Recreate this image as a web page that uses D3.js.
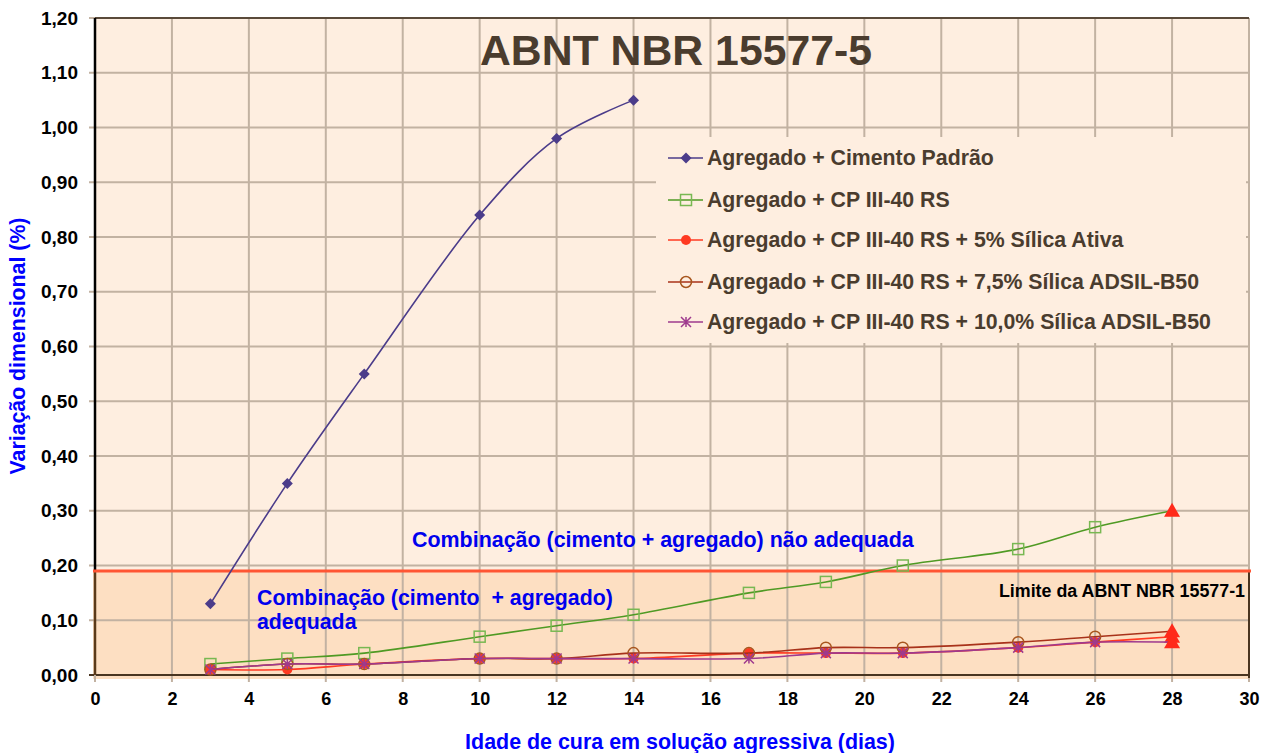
<!DOCTYPE html>
<html><head><meta charset="utf-8">
<script src="https://cdn.jsdelivr.net/npm/d3@7"></script>
<style>body{margin:0;background:#fff}svg{display:block;font-family:Arial,"Liberation Sans",sans-serif}</style>
</head><body><svg id="c" width="1275" height="753"></svg>
<script>
const days = [3,5,7,10,12,14,17,19,21,24,26,28];
const seriesNames = [
  "Agregado + Cimento Padrão",
  "Agregado + CP III-40 RS",
  "Agregado + CP III-40 RS + 5% Sílica Ativa",
  "Agregado + CP III-40 RS + 7,5% Sílica ADSIL-B50",
  "Agregado + CP III-40 RS + 10,0% Sílica ADSIL-B50"
];
const padrao = [0.13,0.35,0.55,0.84,0.98,1.05];
const cp3 = [0.02,0.03,0.04,0.07,0.09,0.11,0.15,0.17,0.20,0.23,0.27,0.30];
const silica5 = [0.01,0.01,0.02,0.03,0.03,0.03,0.04,0.04,0.04,0.05,0.06,0.07];
const adsil75 = [0.01,0.02,0.02,0.03,0.03,0.04,0.04,0.05,0.05,0.06,0.07,0.08];
const adsil10 = [0.01,0.02,0.02,0.03,0.03,0.03,0.03,0.04,0.04,0.05,0.06,0.06];
const limite = 0.19;
const xTicks = [0,2,4,6,8,10,12,14,16,18,20,22,24,26,28,30];
const yTicks = [0,0.1,0.2,0.3,0.4,0.5,0.6,0.7,0.8,0.9,1.0,1.1,1.2];

const svg = d3.select("#c");
const L=95, T=18, R=1249, B=675;
const x = d3.scaleLinear().domain([0,30]).range([L,R]);
const y = d3.scaleLinear().domain([0,1.2]).range([B,T]);

function fit(sel, w){
  const n = sel.node(); const fs = parseFloat(sel.attr("font-size"));
  const m = n.getComputedTextLength();
  if(m>0) sel.attr("font-size", (fs*w/m).toFixed(2));
  return sel;
}

// backgrounds
svg.append("rect").attr("x",L).attr("y",T).attr("width",R-L).attr("height",B-T).attr("fill","#FEEEE0");
svg.append("rect").attr("x",L-2).attr("y",y(limite)).attr("width",R-L+2).attr("height",B-y(limite)+4).attr("fill","#FDDFC2");

// grid
const gc="#C2B2A2";
svg.append("g").selectAll("line").data(xTicks.slice(1)).join("line")
  .attr("x1",d=>x(d)).attr("x2",d=>x(d)).attr("y1",T).attr("y2",B+7).attr("stroke",gc).attr("stroke-width",2);
svg.append("g").selectAll("line").data(yTicks.slice(1)).join("line")
  .attr("x1",L-6).attr("x2",R).attr("y1",d=>y(d)).attr("y2",d=>y(d)).attr("stroke",gc).attr("stroke-width",2);
// frame
svg.append("line").attr("x1",L).attr("x2",R).attr("y1",T).attr("y2",T).attr("stroke","#5a4a3a").attr("stroke-width",2);
svg.append("line").attr("x1",R).attr("x2",R).attr("y1",y(limite)).attr("y2",B+3).attr("stroke","#4a3520").attr("stroke-width",2);
svg.append("line").attr("x1",L-6).attr("x2",R).attr("y1",B).attr("y2",B).attr("stroke","#4a3520").attr("stroke-width",2);
svg.append("line").attr("x1",L).attr("x2",L).attr("y1",T).attr("y2",y(limite)).attr("stroke","#000").attr("stroke-width",2.5);
svg.append("line").attr("x1",L).attr("x2",L).attr("y1",y(limite)).attr("y2",B).attr("stroke","#5a3a1a").attr("stroke-width",2.5);
svg.append("line").attr("x1",L).attr("x2",L).attr("y1",B).attr("y2",B+7).attr("stroke",gc).attr("stroke-width",2);

// axes labels
const xa = d3.axisBottom(x).tickValues(xTicks).tickSize(0).tickPadding(0).tickFormat(d3.format("d"));
const ga = svg.append("g").attr("transform",`translate(0,${B+17})`).call(xa);
ga.select(".domain").remove();
ga.selectAll("text").attr("font-size",18).attr("font-weight","bold").attr("fill","#000").attr("font-family","Arial, Liberation Sans");
const fmt = d=>d3.format(".2f")(d).replace(".",",");
const ya = d3.axisLeft(y).tickValues(yTicks).tickSize(0).tickPadding(0).tickFormat(fmt);
const gy = svg.append("g").attr("transform",`translate(${L-17},0)`).call(ya);
gy.select(".domain").remove();
gy.selectAll("text").attr("font-size",19).attr("font-weight","bold").attr("fill","#000").attr("font-family","Arial, Liberation Sans");

// limit line
svg.append("line").attr("x1",L-2).attr("x2",R+2).attr("y1",y(limite)).attr("y2",y(limite)).attr("stroke","#FF5533").attr("stroke-width",3);

// title
fit(svg.append("text").attr("x",676).attr("y",65).attr("text-anchor","middle").attr("font-size",42).attr("font-weight","bold").attr("fill","#4A3C2E").text("ABNT NBR 15577-5"),392);

// axis titles
fit(svg.append("text").attr("x",680).attr("y",749).attr("text-anchor","middle").attr("font-size",20).attr("font-weight","bold").attr("fill","#0000FF").text("Idade de cura em solução agressiva (dias)"),430);
fit(svg.append("text").attr("transform","translate(25,346) rotate(-90)").attr("text-anchor","middle").attr("font-size",19).attr("font-weight","bold").attr("fill","#0000FF").text("Variação dimensional (%)"),257);

// annotations
fit(svg.append("text").attr("x",412).attr("y",547).attr("font-size",21).attr("font-weight","bold").attr("fill","#0000EE").text("Combinação (cimento + agregado) não adequada"),502);
fit(svg.append("text").attr("x",257).attr("y",605).attr("font-size",21).attr("font-weight","bold").attr("fill","#0000EE").attr("xml:space","preserve").text("Combinação (cimento  + agregado)"),356);
const ad = svg.append("text").attr("x",257).attr("y",629).attr("font-weight","bold").attr("fill","#0000EE").text("adequada");
fit(svg.append("text").attr("x",1245).attr("y",597).attr("text-anchor","end").attr("font-size",16).attr("font-weight","bold").attr("fill","#000").text("Limite da ABNT NBR 15577-1"),246);

// series
const styles = [
  {line:"#4B3C8A", mk:"diamond", stroke:"#4B3C8A", fill:"#4B3C8A"},
  {line:"#4F9A24", mk:"square", stroke:"#78B852", fill:"none"},
  {line:"#FF3A22", mk:"circle", stroke:"#FF3A22", fill:"#FF3A22"},
  {line:"#A8321A", mk:"ocircle", stroke:"#A8561E", fill:"none"},
  {line:"#9E3A8E", mk:"star", stroke:"#9E3A8E", fill:"none"}
];
const datas = [padrao, cp3, silica5, adsil75, adsil10];
const lineGen = d3.line().x(d=>x(d[0])).y(d=>y(d[1])).curve(d3.curveCatmullRom.alpha(0.5));

function marker(g, type, px, py, st){
  if(type==="diamond") g.append("path").attr("d",`M${px},${py-5.5}L${px+5.5},${py}L${px},${py+5.5}L${px-5.5},${py}Z`).attr("fill",st.fill);
  else if(type==="square") g.append("rect").attr("x",px-5.5).attr("y",py-5.5).attr("width",11).attr("height",11).attr("fill","none").attr("stroke",st.stroke).attr("stroke-width",1.5);
  else if(type==="circle") g.append("circle").attr("cx",px).attr("cy",py).attr("r",5).attr("fill",st.fill);
  else if(type==="ocircle") g.append("circle").attr("cx",px).attr("cy",py).attr("r",5.5).attr("fill","none").attr("stroke",st.stroke).attr("stroke-width",1.5);
  else if(type==="star"){
    const s=5;
    g.append("path").attr("d",`M${px-s},${py-s}L${px+s},${py+s}M${px-s},${py+s}L${px+s},${py-s}M${px},${py-s}L${px},${py+s}`).attr("stroke",st.stroke).attr("stroke-width",1.5);
  } else if(type==="tri") g.append("path").attr("d",`M${px},${py-8}L${px+8},${py+6}L${px-8},${py+6}Z`).attr("fill","#FF2A1A");
}

datas.forEach((vals,i)=>{
  const pts = vals.map((v,j)=>[days[j],v]);
  const g = svg.append("g");
  g.append("path").datum(pts).attr("d",lineGen).attr("fill","none").attr("stroke",styles[i].line).attr("stroke-width",1.6);
  pts.forEach((p,j)=>{
    const last = (i>0 && j===pts.length-1);
    marker(g, last?"tri":styles[i].mk, x(p[0]), y(p[1]), styles[i]);
  });
});

// legend
const lg = svg.append("g");
lg.append("rect").attr("x",656).attr("y",137).attr("width",590).attr("height",206).attr("fill","#FEEEE0");
const legendY = [158,200,240,282,322];
let lfs = 20;
seriesNames.forEach((n,i)=>{
  const yy = legendY[i];
  lg.append("line").attr("x1",668).attr("x2",703).attr("y1",yy).attr("y2",yy).attr("stroke",styles[i].line).attr("stroke-width",1.6);
  marker(lg, styles[i].mk, 686, yy, styles[i]);
  const t = lg.append("text").attr("x",707).attr("y",yy+7).attr("font-size",20).attr("font-weight","bold").attr("fill","#4A3C2E").text(n);
  if(i===4){ fit(t,504); lfs = t.attr("font-size"); }
});
lg.selectAll("text").attr("font-size",lfs);
// 'adequada' uses same size as preceding annotation line
ad.attr("font-size", svg.selectAll("text").filter(function(){return d3.select(this).text()==="Combinação (cimento  + agregado)";}).attr("font-size"));
</script></body></html>
